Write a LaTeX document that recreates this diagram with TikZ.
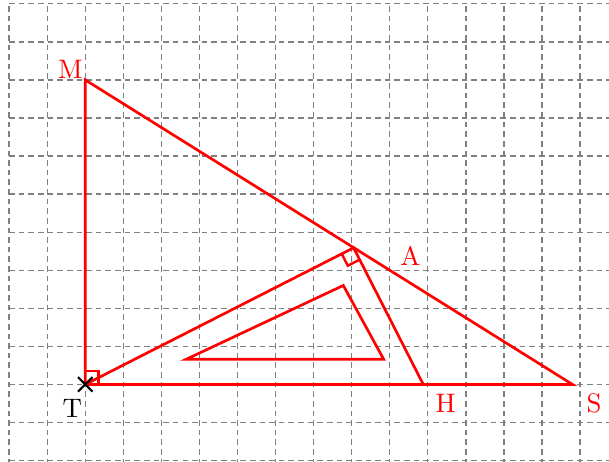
\documentclass[tikz,border=0pt]{standalone}
\usetikzlibrary{calc}

\begin{document}
\begin{tikzpicture}[
  x = 0.5cm, y = 0.5cm,
  grille/.style = {draw=gray, line width=0.5pt, dash pattern=on 2.1pt off 1.5pt},
  trait/.style  = {draw=red, line width=1pt},
  angle/.style  = {draw=red, line width=0.9pt},
  etiq/.style   = {text=red, inner sep=0pt},
]
\useasboundingbox (-2.24,-2.03) rectangle (13.76,10.1);

% ── Grille ─────────────────────────────────────────────────────────────────────
\begin{scope}
  \clip (-2.24,-2.03) rectangle (13.76,10.1);
  \foreach \x in {-2,...,13}
    \draw[grille] (\x,-2.1) -- (\x,10);
  \foreach \y in {-2,...,10}
    \draw[grille] (-2,\y) -- (13.9,\y);
\end{scope}

% ── Points ─────────────────────────────────────────────────────────────────────
\coordinate (T) at (0,0);
\coordinate (M) at (0,8);
\coordinate (S) at (12.8,0);
\coordinate (A) at (7.05,3.59);
\coordinate (H) at (8.88,0);

\coordinate (P) at (2.65,0.66);
\coordinate (Q) at (6.78,2.6);
\coordinate (R) at (7.84,0.66);

% ── Triangles ──────────────────────────────────────────────────────────────────
\draw[trait] (M) -- (T) -- (S) -- cycle;
\draw[trait] (T) -- (A) -- (H);
\draw[trait] (P) -- (Q) -- (R) -- cycle;

% ── Angles droits ──────────────────────────────────────────────────────────────
\draw[angle] (0,0.35) -- (0.35,0.35) -- (0.35,0);
\draw[angle] ($(A)!0.35cm*0.5!(T)$) -- ($(A)!0.35cm*0.5!(T)!0.35cm*0.5!90:(T)$)
  -- ($(A)!0.35cm*0.5!(H)$);

% ── Croix en T ─────────────────────────────────────────────────────────────────
\draw[line width=0.8pt] ($(T)+(-0.19,-0.19)$) -- ($(T)+(0.19,0.19)$);
\draw[line width=0.8pt] ($(T)+(-0.19,0.19)$) -- ($(T)+(0.19,-0.19)$);

% ── Noms des points ────────────────────────────────────────────────────────────
\node[etiq] (lM) at (-0.39,8.29) {M};
\node[etiq] (lA) at (8.54,3.38)  {A};
\node[etiq] (lH) at (9.47,-0.5)  {H};
\node[etiq] (lS) at (13.37,-0.51) {S};
\node[inner sep=0pt] (lT) at (-0.34,-0.62) {T};

\end{tikzpicture}
\end{document}
